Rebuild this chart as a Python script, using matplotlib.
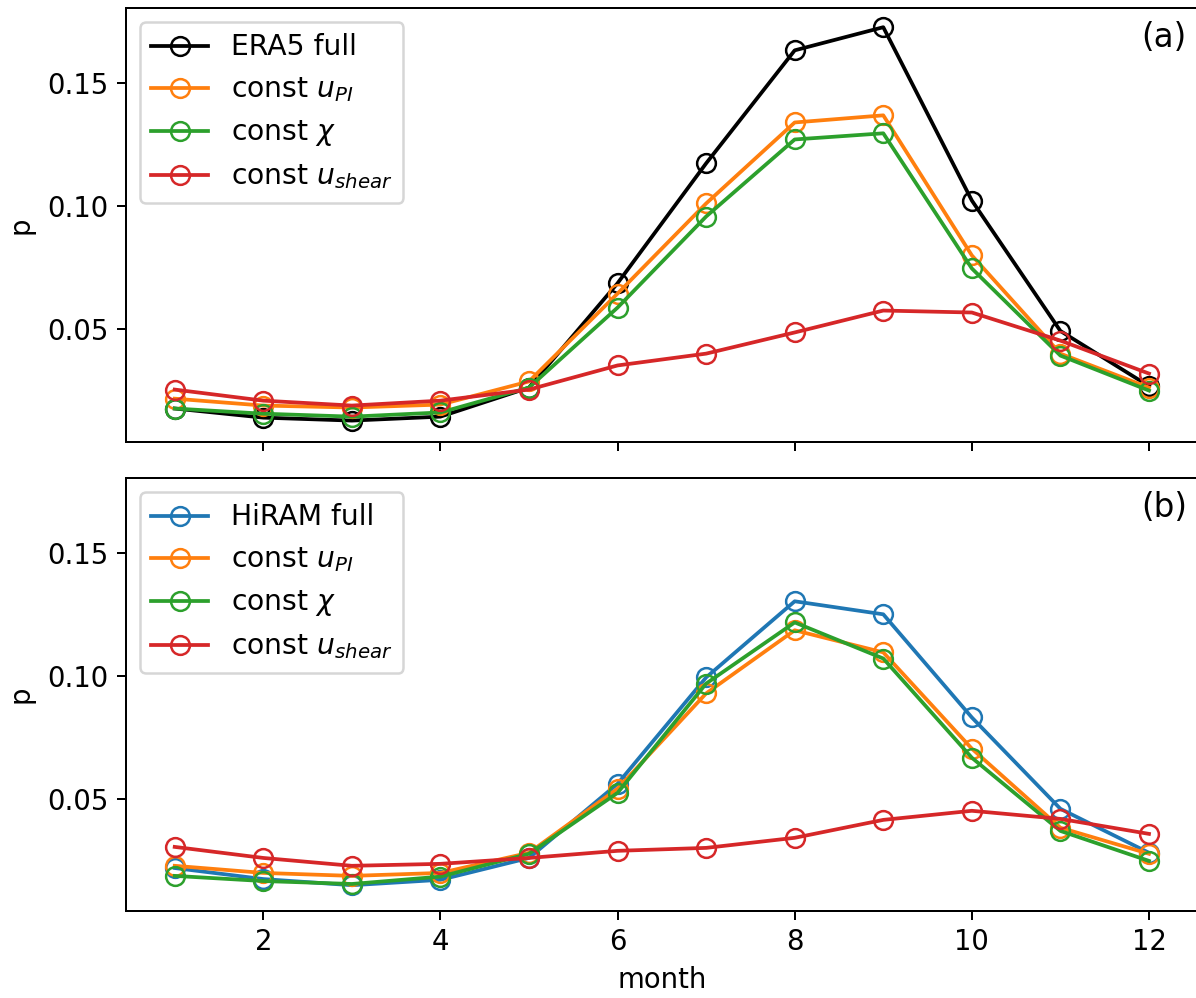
import matplotlib
matplotlib.use("Agg")
import matplotlib.pyplot as plt
import numpy as np

months = list(range(1, 13))

era5_full = [0.0179, 0.0142, 0.0130, 0.0146, 0.0264, 0.0688, 0.1175, 0.1634, 0.1728, 0.1024, 0.0494, 0.0270]
era5_const_upi = [0.0219, 0.0191, 0.0183, 0.0195, 0.0289, 0.0646, 0.1012, 0.1341, 0.1370, 0.0801, 0.0402, 0.0264]
era5_const_chi = [0.0179, 0.0158, 0.0146, 0.0163, 0.0264, 0.0589, 0.0959, 0.1272, 0.1297, 0.0748, 0.0394, 0.0252]
era5_const_shear = [0.0256, 0.0211, 0.0191, 0.0211, 0.0256, 0.0354, 0.0402, 0.0488, 0.0577, 0.0569, 0.0455, 0.0321]

hiram_full = [0.0218, 0.0173, 0.0148, 0.0170, 0.0259, 0.0561, 0.0994, 0.1304, 0.1251, 0.0831, 0.0459, 0.0280]
hiram_const_upi = [0.0227, 0.0198, 0.0186, 0.0198, 0.0280, 0.0541, 0.0929, 0.1186, 0.1096, 0.0704, 0.0382, 0.0276]
hiram_const_chi = [0.0186, 0.0165, 0.0153, 0.0183, 0.0276, 0.0524, 0.0969, 0.1218, 0.1071, 0.0667, 0.0369, 0.0247]
hiram_const_shear = [0.0304, 0.0259, 0.0227, 0.0235, 0.0259, 0.0288, 0.0300, 0.0341, 0.0414, 0.0451, 0.0418, 0.0357]

labels_const = [r"const $u_{PI}$", r"const $\chi$", r"const $u_{shear}$"]
const_colors = ["tab:orange", "tab:green", "tab:red"]

W, H = 1196, 998
dpi = 180
fig = plt.figure(figsize=(W / dpi, H / dpi), dpi=dpi)

left = 126 / W
right_px = 1197.7
width = (right_px - 126) / W
ax1 = fig.add_axes([left, 1 - 442 / H, width, (442 - 8) / H])
ax2 = fig.add_axes([left, 1 - 911 / H, width, (911 - 478) / H], sharex=ax1, sharey=ax1)

mk = dict(marker="o", mfc="none", markersize=7.5, lw=1.5)

ax1.plot(months, era5_full, color="black", label="ERA5 full", **mk)
for vals, lab, c in zip([era5_const_upi, era5_const_chi, era5_const_shear], labels_const, const_colors):
    ax1.plot(months, vals, color=c, label=lab, **mk)

ax2.plot(months, hiram_full, color="tab:blue", label="HiRAM full", **mk)
for vals, lab, c in zip([hiram_const_upi, hiram_const_chi, hiram_const_shear], labels_const, const_colors):
    ax2.plot(months, vals, color=c, label=lab, **mk)

ax1.set_xlim(0.45, 12.55)
ax1.set_ylim(0.0043, 0.1806)
ax1.set_yticks([0.05, 0.10, 0.15])
ax1.set_xticks([2, 4, 6, 8, 10, 12])
ax1.tick_params(labelbottom=False)

for ax, tag in [(ax1, "(a)"), (ax2, "(b)")]:
    ax.set_ylabel("p", fontsize=11, labelpad=5)
    ax.tick_params(labelsize=11)
    ax.legend(loc="upper left", fontsize=11.3)
    ax.text(0.99, 0.97, tag, transform=ax.transAxes, ha="right", va="top", fontsize=13)

ax2.set_xlabel("month", fontsize=11)

fig.savefig("out.png", dpi=dpi)
